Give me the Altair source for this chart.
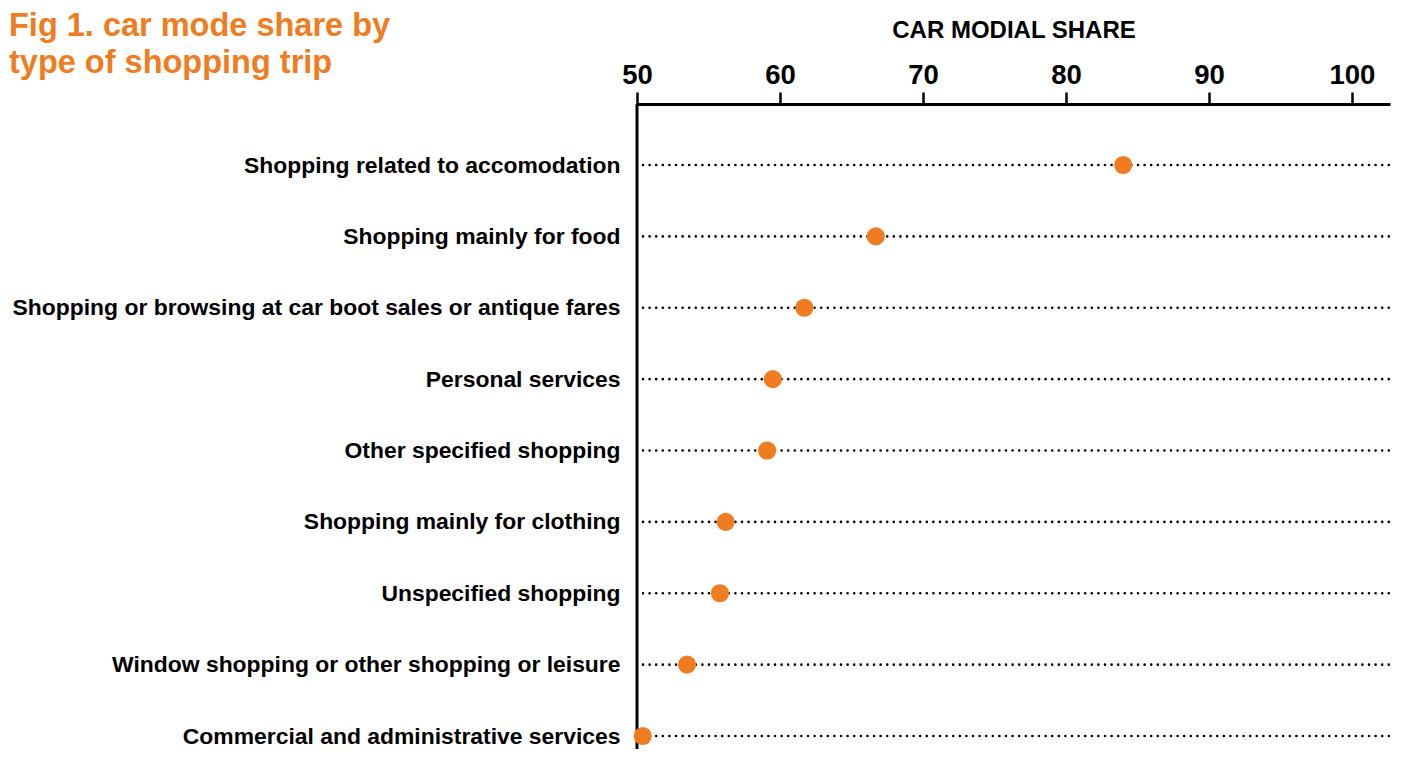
import altair as alt
import pandas as pd

categories = [
    "Shopping related to accomodation",
    "Shopping mainly for food",
    "Shopping or browsing at car boot sales or antique fares",
    "Personal services",
    "Other specified shopping",
    "Shopping mainly for clothing",
    "Unspecified shopping",
    "Window shopping or other shopping or leisure",
    "Commercial and administrative services",
]
car_share = [84.0, 66.7, 61.7, 59.5, 59.1, 56.2, 55.8, 53.5, 50.4]
x_ticks = [50, 60, 70, 80, 90, 100]
title_lines = ["Fig 1. car mode share by", "type of shopping trip"]

ORANGE = "#F07C21"
FONT = "Liberation Sans"
W, H = 753, 645

df = pd.DataFrame({"category": categories, "share": car_share})

x_scale = alt.Scale(domain=[50, 102.66], range=[0, W], nice=False, zero=False)
y_scale = alt.Scale(type="point", domain=categories, range=[61, 632], padding=0)

base = alt.Chart(df)

rules = base.mark_rule(
    color="black", strokeWidth=2.6, strokeDash=[0, 6.6], strokeCap="round"
).encode(
    x=alt.value(6),
    x2=alt.value(W),
    y=alt.Y("category:N", scale=y_scale, sort=categories,
            axis=alt.Axis(
                title=None, orient="left", domain=False, ticks=False,
                tickSize=0, labelPadding=17,
                labelFont=FONT, labelFontSize=22.9, labelFontWeight="bold",
                labelColor="black", grid=False, labelLimit=0)),
)

yline = alt.Chart(pd.DataFrame({"v": [0]})).mark_rule(
    color="black", strokeWidth=3
).encode(x=alt.value(0), y=alt.value(0), y2=alt.value(H))

points = base.mark_circle(size=330, color=ORANGE, opacity=1).encode(
    x=alt.X("share:Q", scale=x_scale,
            axis=alt.Axis(
                orient="top", values=x_ticks, title="CAR MODIAL SHARE",
                titleFont=FONT, titleFontSize=24, titleFontWeight="bold",
                titleColor="black", titleY=-67, titleBaseline="alphabetic",
                domainColor="black", domainWidth=3, tickColor="black",
                tickWidth=2.5, tickSize=12, labelPadding=3, labelFont=FONT,
                labelFontSize=27.5, labelFontWeight="bold", labelColor="black",
                grid=False, labelFlush=False)),
    y=alt.Y("category:N", scale=y_scale, sort=categories),
)

t1 = alt.Chart(pd.DataFrame({"t": [title_lines[0]]})).mark_text(
    align="left", baseline="alphabetic", font=FONT, fontSize=32.5,
    fontWeight="bold", color=ORANGE
).encode(x=alt.value(-628), y=alt.value(-68), text="t:N")

t2 = alt.Chart(pd.DataFrame({"t": [title_lines[1]]})).mark_text(
    align="left", baseline="alphabetic", font=FONT, fontSize=32.5,
    fontWeight="bold", color=ORANGE
).encode(x=alt.value(-628), y=alt.value(-31), text="t:N")

chart = alt.layer(rules, yline, points, t1, t2).properties(
    width=W, height=H,
    background="white",
    autosize=alt.AutoSizeParams(type="none"),
    padding={"left": 629, "top": 96, "right": 5, "bottom": 0},
).configure_view(stroke=None)

chart.save("out.html", embed_options={"renderer": "svg", "actions": False})
